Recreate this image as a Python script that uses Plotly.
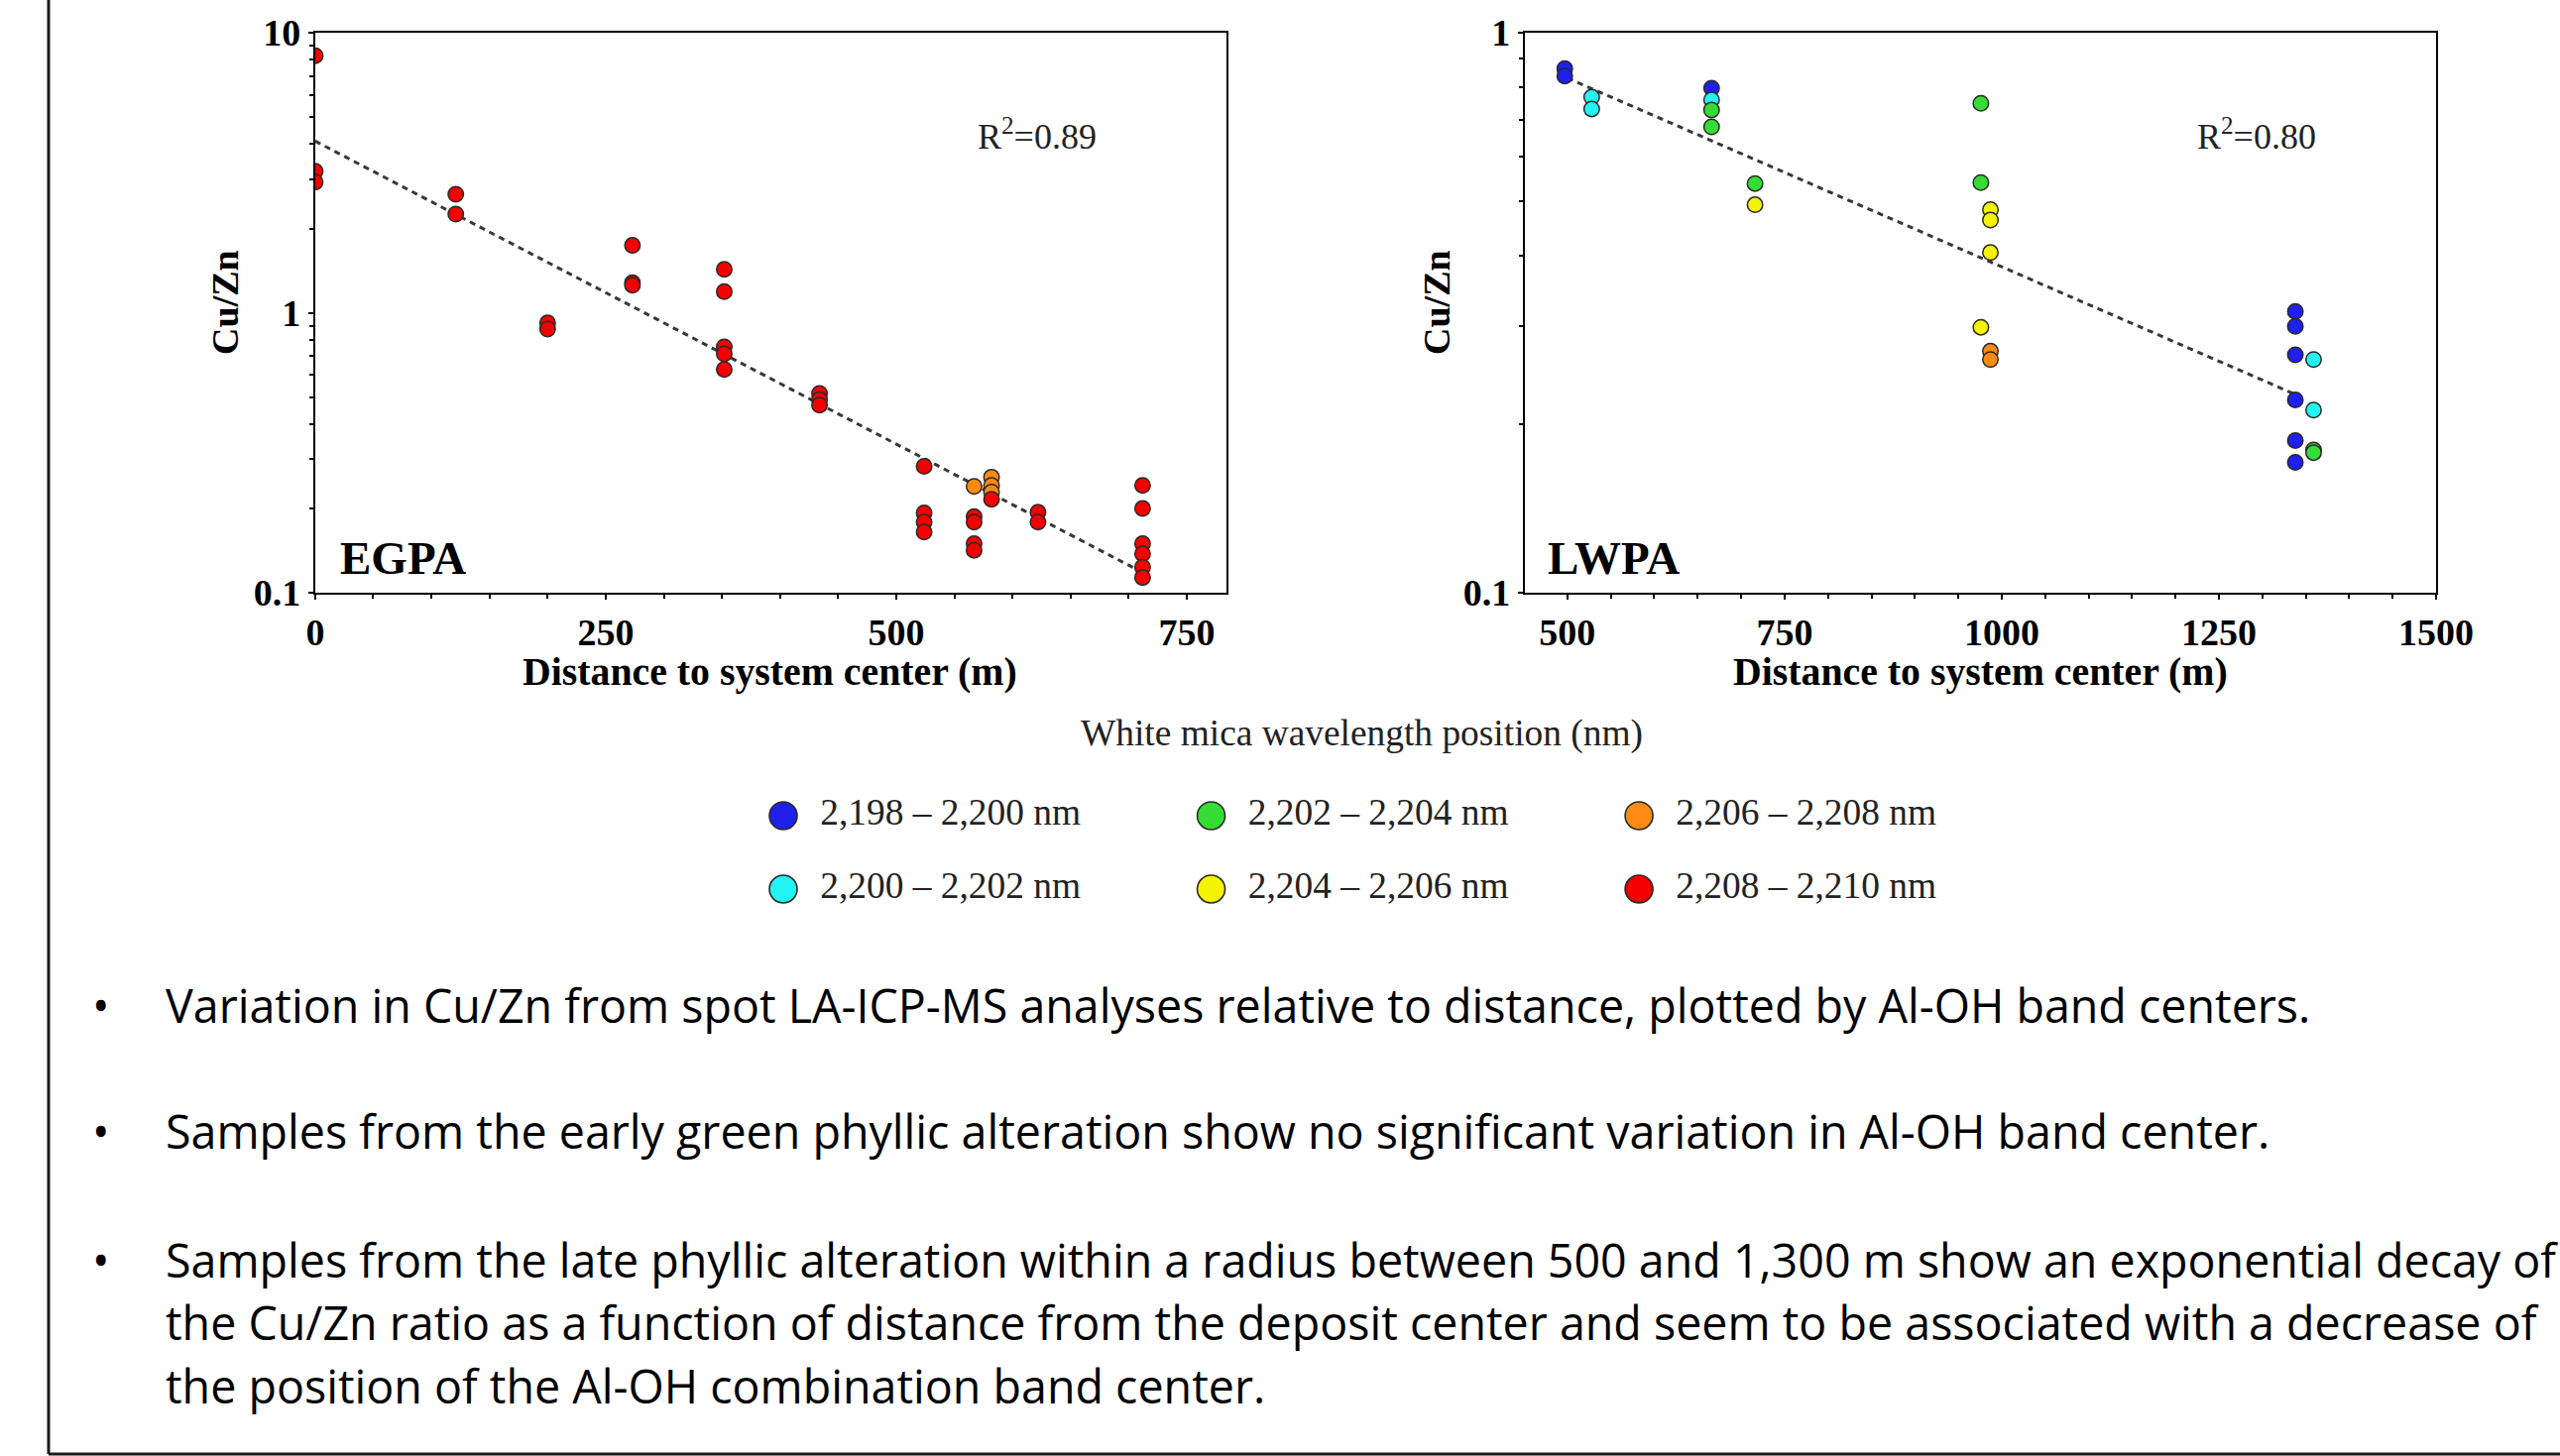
import plotly.graph_objects as go

W, H = 2582, 1469

# ---------------- data ----------------
band_labels = ["2,198 – 2,200 nm", "2,200 – 2,202 nm", "2,202 – 2,204 nm",
               "2,204 – 2,206 nm", "2,206 – 2,208 nm", "2,208 – 2,210 nm"]
band_colors = ["#2020ec", "#22f4f4", "#36dc36", "#f4f400", "#ff8a12", "#f40000"]

# EGPA: distance (m), Cu/Zn, band index
egpa_dist = [0, 0, 0, 121, 121, 200, 200, 273, 273, 273,
             352, 352, 352, 352, 352, 434, 434, 434,
             524, 524, 524, 524, 567, 567, 567, 567, 567,
             582, 582, 582, 582, 622, 622,
             712, 712, 712, 712, 712, 712]
egpa_cuzn = [8.28, 3.2, 2.93, 2.65, 2.25, 0.92, 0.875, 1.74, 1.28, 1.255,
             1.43, 1.19, 0.755, 0.714, 0.628, 0.515, 0.49, 0.468,
             0.283, 0.193, 0.179, 0.165, 0.240, 0.187, 0.179, 0.150, 0.142,
             0.259, 0.242, 0.229, 0.216, 0.194, 0.179,
             0.242, 0.200, 0.150, 0.138, 0.1235, 0.1135]
egpa_band = [5, 5, 5, 5, 5, 5, 5, 5, 5, 5,
             5, 5, 5, 5, 5, 5, 5, 5,
             5, 5, 5, 5, 4, 5, 5, 5, 5,
             4, 4, 4, 5, 5, 5,
             5, 5, 5, 5, 5, 5]
egpa_trend_x = [0, 705]
egpa_trend_y = [4.1, 0.1225]

# LWPA
lwpa_dist = [497, 497, 528, 528, 666, 666, 666, 666, 716, 716,
             976, 976, 976, 987, 987, 987, 987, 987,
             1338, 1338, 1338, 1338, 1338, 1338, 1359, 1359, 1359, 1359]
lwpa_cuzn = [0.863, 0.837, 0.767, 0.731, 0.796, 0.759, 0.728, 0.679, 0.538, 0.493,
             0.748, 0.540, 0.298, 0.483, 0.463, 0.405, 0.270, 0.261,
             0.318, 0.299, 0.266, 0.221, 0.187, 0.171, 0.261, 0.212, 0.180, 0.178]
lwpa_band = [0, 0, 1, 1, 0, 1, 2, 2, 2, 3,
             2, 2, 3, 3, 3, 3, 4, 4,
             0, 0, 0, 0, 0, 0, 1, 1, 2, 2]
lwpa_trend_x = [500, 1344]
lwpa_trend_y = [0.83, 0.224]

egpa_r2 = "R<sup>2</sup>=0.89"
lwpa_r2 = "R<sup>2</sup>=0.80"

bullets = [
    ["Variation in Cu/Zn from spot LA-ICP-MS analyses relative to distance, plotted by Al-OH band centers."],
    ["Samples from the early green phyllic alteration show no significant variation in Al-OH band center."],
    ["Samples from the late phyllic alteration within a radius between 500 and 1,300 m show an exponential decay of",
     "the Cu/Zn ratio as a function of distance from the deposit center and seem to be associated with a decrease of",
     "the position of the Al-OH combination band center."],
]

# ---------------- figure ----------------
SERIF = "Liberation Serif, Times New Roman, serif"
fig = go.Figure()

def add_panel(dist, cuzn, band, tx, ty, xa, ya):
    fig.add_trace(go.Scatter(
        x=tx, y=ty, mode="lines", xaxis=xa, yaxis=ya, showlegend=False,
        line=dict(color="#383838", width=3, dash="6px,5px"), hoverinfo="skip"))
    for b in range(len(band_labels)):
        xs = [d for d, k in zip(dist, band) if k == b]
        ys = [v for v, k in zip(cuzn, band) if k == b]
        if not xs:
            continue
        fig.add_trace(go.Scatter(
            x=xs, y=ys, mode="markers", xaxis=xa, yaxis=ya, showlegend=False,
            marker=dict(size=15.5, color=band_colors[b],
                        line=dict(color="#2a2a2a", width=1.5)),
            name=band_labels[b]))

add_panel(egpa_dist, egpa_cuzn, egpa_band, egpa_trend_x, egpa_trend_y, "x", "y")
add_panel(lwpa_dist, lwpa_cuzn, lwpa_band, lwpa_trend_x, lwpa_trend_y, "x2", "y2")

# custom legend (enlarged symbols) on a hidden axis: column = i//2, row = i%2
leg_col = [i // 2 for i in range(len(band_labels))]
leg_row = [i % 2 for i in range(len(band_labels))]
fig.add_trace(go.Scatter(
    x=leg_col, y=leg_row, mode="markers+text", xaxis="x3", yaxis="y3",
    showlegend=False, hoverinfo="skip", cliponaxis=False,
    text=["\u2002" + t for t in band_labels], textposition="middle right",
    textfont=dict(family=SERIF, size=37.4, color="#222222"),
    marker=dict(size=28, color=band_colors, line=dict(color="#2a2a2a", width=1.6))))

tickfont = dict(family=SERIF, size=38, color="black", weight="bold")
axis_common = dict(showline=True, linecolor="black", linewidth=2.2, mirror=True,
                   showgrid=False, zeroline=False, ticks="outside", ticklen=5,
                   tickwidth=2, tickcolor="black", tickfont=tickfont, automargin=False)

minor_log = [0.2, 0.3, 0.4, 0.5, 0.6, 0.7, 0.8, 0.9, 2, 3, 4, 5, 6, 7, 8, 9]
minor_style = dict(ticks="outside", ticklen=4, tickwidth=2, tickcolor="black")

fig.update_layout(
    width=W, height=H, margin=dict(l=0, r=0, t=0, b=0, pad=0, autoexpand=False),
    paper_bgcolor="white", plot_bgcolor="white", showlegend=False,
    xaxis=dict(domain=[0.12312, 0.47901], range=[0, 784], anchor="y",
               tickvals=[0, 250, 500, 750],
               minor=dict(tickvals=list(range(0, 800, 50)), **minor_style),
               **axis_common),
    yaxis=dict(domain=[0.5928, 0.97754], type="log", range=[-1, 1], anchor="x",
               tickvals=[0.1, 1, 10], ticktext=["0.1", "1", "10"],
               minor=dict(tickvals=minor_log, **minor_style),
               **axis_common),
    xaxis2=dict(domain=[0.59563, 0.95159], range=[451, 1500], anchor="y2",
                tickvals=[500, 750, 1000, 1250, 1500],
                minor=dict(tickvals=list(range(500, 1550, 50)), **minor_style),
                **axis_common),
    yaxis2=dict(domain=[0.5928, 0.97754], type="log", range=[-1, 0], anchor="x2",
                tickvals=[0.1, 1], ticktext=["0.1", "1"],
                minor=dict(tickvals=minor_log, **minor_style),
                **axis_common),
    xaxis3=dict(domain=[0.2224, 0.7238], range=[-0.5, 2.5], visible=False,
                anchor="y3", fixedrange=True, automargin=False),
    yaxis3=dict(domain=[0.3642, 0.4650], range=[1.5, -0.5], visible=False,
                anchor="x3", fixedrange=True, automargin=False),
)

ann = []
# axis titles
for xc in [0.3008, 0.7736]:
    ann.append(dict(x=xc, y=0.5385, xref="paper", yref="paper", showarrow=False,
                    text="Distance to system center (m)", xanchor="center", yanchor="middle",
                    font=dict(family=SERIF, size=39.8, color="black", weight="bold")))
for xc in [0.0879, 0.5612]:
    ann.append(dict(x=xc, y=0.7924, xref="paper", yref="paper", showarrow=False,
                    text="Cu/Zn", textangle=-90, xanchor="center", yanchor="middle",
                    font=dict(family=SERIF, size=38, color="black", weight="bold")))
# panel labels
for xl, lab in [(0.1321, "EGPA"), (0.6038, "LWPA")]:
    ann.append(dict(x=xl, y=0.6167, xref="paper", yref="paper", showarrow=False,
                    text=lab, xanchor="left", yanchor="middle",
                    font=dict(family=SERIF, size=47, color="black", weight="bold")))
# R2
for xc, t in [(0.4053, egpa_r2), (0.8815, lwpa_r2)]:
    ann.append(dict(x=xc, y=0.9081, xref="paper", yref="paper", showarrow=False,
                    text=t, xanchor="center", yanchor="middle",
                    font=dict(family=SERIF, size=36, color="#222222")))
# legend title
ann.append(dict(x=0.5318, y=0.4962, xref="paper", yref="paper", showarrow=False,
                text="White mica wavelength position (nm)", xanchor="center", yanchor="middle",
                font=dict(family=SERIF, size=37.4, color="#222222")))

# bullets
BF = dict(family="Open Sans, Noto Sans, sans-serif", size=46.6, color="black")
line_y = [[0.3097], [0.2233], [0.1348, 0.0919, 0.0483]]
for lines, ys in zip(bullets, line_y):
    ann.append(dict(x=0.0395, y=ys[0], xref="paper", yref="paper", showarrow=False,
                    text="•", xanchor="center", yanchor="middle", font=BF))
    for t, yy in zip(lines, ys):
        ann.append(dict(x=0.0639, y=yy, xref="paper", yref="paper", showarrow=False,
                        text=t, xanchor="left", yanchor="middle", font=BF))
fig.update_layout(annotations=ann)

# slide frame (left and bottom edges)
fig.update_layout(shapes=[
    dict(type="line", xref="paper", yref="paper", x0=0.01898, x1=0.01898, y0=0.0014, y1=1.0,
         line=dict(color="#1a1a1a", width=3)),
    dict(type="line", xref="paper", yref="paper", x0=0.01898, x1=1.0, y0=0.0014, y1=0.0014,
         line=dict(color="#1a1a1a", width=3)),
])

fig.write_html(
    "out.html",
    config={"displayModeBar": False},
    post_script=(
        "document.documentElement.style.margin='0';"
        "document.body.style.margin='0';"
        "document.documentElement.style.overflow='hidden';"
        "document.body.style.overflow='hidden';"
    ),
)
